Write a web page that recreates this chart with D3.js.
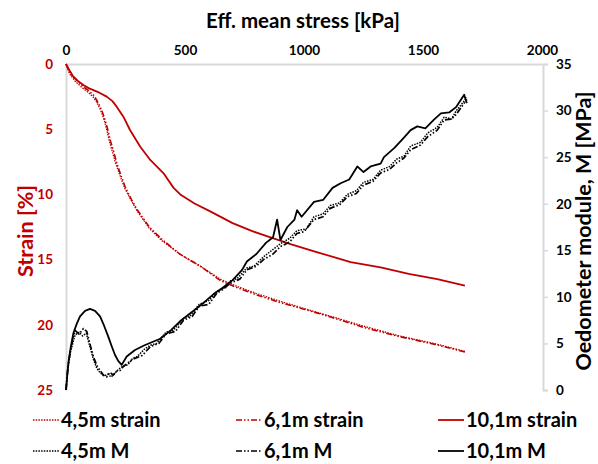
<!DOCTYPE html>
<html lang="en">
<head>
<meta charset="utf-8">
<title>strain and oedometer module</title>
<script src="https://cdn.jsdelivr.net/npm/d3@7"></script>
<style>
  body{
    margin:0px;
    background:#fff;
  }
  text{
    font-family:Lato, "DejaVu Sans", sans-serif;
    font-weight:bold;
  }
</style>
</head>
<body>
<div id="chart"></div>
<script>

var stressTicks = [0, 500, 1000, 1500, 2000]
var strainTicks = [0, 5, 10, 15, 20, 25]
var mTicks = [0, 5, 10, 15, 20, 25, 30, 35]

// strain [%] vs eff. mean stress [kPa]
var strain45X = [0, 15, 40, 70, 95, 115, 130, 142, 153, 162, 172, 182, 196, 210, 228, 246, 275, 300, 350, 400, 480, 564, 648, 712, 800, 901, 1000, 1112, 1251, 1400, 1550, 1680]
var strain45Y = [0, 0.75, 1.35, 1.85, 2.2, 2.55, 2.95, 3.4, 3.9, 4.4, 5.1, 5.9, 6.8, 7.7, 8.6, 9.5, 10.5, 11.3, 12.6, 13.5, 14.6, 15.5, 16.5, 17.0, 17.6, 18.2, 18.75, 19.35, 20.1, 20.85, 21.45, 22.05]

var strain61X = [0, 17, 45, 73, 95, 115, 130, 143, 155, 164, 175, 185, 200, 213, 230, 248, 275, 300, 350, 400, 480, 564, 648, 712, 800, 901, 1000, 1112, 1251, 1400, 1550, 1680]
var strain61Y = [0, 0.72, 1.25, 1.74, 2.05, 2.38, 2.8, 3.27, 3.8, 4.3, 5.0, 5.8, 6.7, 7.6, 8.5, 9.4, 10.4, 11.2, 12.5, 13.4, 14.6, 15.5, 16.6, 17.1, 17.7, 18.3, 18.8, 19.4, 20.2, 20.9, 21.5, 22.1]

var strain101X = [0, 15, 31, 50, 73, 95, 115, 140, 171, 195, 213, 241, 269, 312, 354, 410, 452, 480, 540, 606, 700, 780, 859, 950, 1050, 1196, 1322, 1440, 1560, 1676]
var strain101Y = [0, 0.5, 0.97, 1.3, 1.61, 1.85, 2.0, 2.2, 2.5, 2.85, 3.27, 4.04, 5.06, 6.34, 7.36, 8.38, 9.5, 10.0, 10.7, 11.3, 12.2, 12.8, 13.3, 13.85, 14.4, 15.2, 15.6, 16.1, 16.5, 17.0]

// oedometer module M [MPa] vs eff. mean stress [kPa]
var m45X = [0, 8, 20, 38, 55, 70, 85, 100, 115, 130, 145, 160, 175, 190, 205, 220, 240, 260, 280, 300, 330, 354, 380, 420, 450, 494, 520, 560, 600, 634, 660, 691, 720, 760, 790, 830, 860, 901, 940, 970, 1010, 1042, 1080, 1110, 1150, 1182, 1220, 1250, 1290, 1322, 1360, 1390, 1420, 1448, 1490, 1520, 1560, 1589, 1620, 1640, 1660, 1684]
var m45Y = [0, 2.3, 4.2, 5.9, 6.2, 5.8, 6.1, 4.7, 3.3, 2.3, 1.8, 1.5, 1.7, 1.4, 1.8, 2.2, 2.6, 2.7, 3.4, 3.6, 4.4, 4.8, 5.0, 6.2, 6.4, 7.7, 7.9, 9.2, 9.6, 10.6, 10.9, 11.7, 12.0, 13.1, 13.3, 14.3, 14.9, 15.7, 16.3, 17.1, 17.3, 18.6, 18.9, 19.8, 20.1, 21.0, 21.4, 22.3, 22.6, 23.6, 24.0, 24.8, 25.1, 26.2, 26.6, 27.6, 28.2, 29.3, 29.1, 30.0, 30.6, 31.4]

var m61X = [0, 8, 20, 38, 55, 73, 87, 100, 115, 130, 143, 157, 171, 185, 198, 212, 227, 240, 280, 320, 354, 390, 420, 460, 494, 530, 560, 600, 634, 660, 691, 730, 760, 800, 830, 870, 901, 940, 970, 1000, 1042, 1080, 1110, 1150, 1182, 1220, 1250, 1290, 1322, 1360, 1390, 1420, 1448, 1490, 1520, 1560, 1589, 1620, 1640, 1673, 1684]
var m61Y = [0, 2.5, 4.5, 6.4, 6.0, 6.6, 6.3, 5.0, 3.6, 2.6, 2.1, 1.6, 1.4, 1.9, 1.6, 2.0, 2.1, 2.5, 3.3, 3.7, 4.65, 5.0, 6.0, 6.3, 7.5, 7.9, 9.0, 9.2, 10.4, 10.8, 11.5, 11.9, 12.9, 13.3, 14.0, 14.6, 15.4, 15.9, 16.8, 17.0, 18.3, 18.6, 19.5, 19.9, 20.75, 21.1, 22.0, 22.4, 23.3, 23.7, 24.4, 24.9, 25.8, 26.3, 27.2, 27.9, 29.0, 29.1, 29.6, 30.8, 31.2]

var m101X = [0, 10, 20, 31, 45, 59, 80, 101, 122, 143, 160, 178, 192, 206, 220, 234, 255, 290, 330, 396, 440, 480, 536, 580, 620, 660, 700, 740, 760, 800, 840, 870, 887, 901, 930, 960, 971, 990, 1042, 1080, 1120, 1154, 1190, 1224, 1250, 1280, 1322, 1336, 1380, 1420, 1448, 1476, 1510, 1545, 1575, 1610, 1640, 1673, 1684]
var m101Y = [0, 2.9, 4.6, 6.1, 7.1, 7.9, 8.5, 8.7, 8.5, 7.9, 6.9, 5.7, 4.7, 3.76, 3.1, 2.7, 3.6, 4.3, 4.8, 5.5, 6.4, 7.4, 8.5, 9.4, 10.3, 11.0, 11.8, 12.9, 13.8, 14.6, 15.8, 16.4, 18.3, 16.1, 17.5, 18.3, 19.3, 18.6, 20.2, 20.4, 21.7, 22.2, 22.6, 24.0, 23.4, 24.0, 24.3, 25.0, 26.0, 27.1, 27.9, 28.3, 28.1, 29.0, 29.7, 29.8, 30.4, 31.7, 30.8]

var red = "#c00000"
var w = 598
var h = 464
var plotLeft = 66, plotRight = 542, plotTop = 64, plotBottom = 390

var series = [
  {name:"4,5m strain", x:strain45X, y:strain45Y, axis:"strain", color:red, dash:"1.5,1.2", width:1.3},
  {name:"6,1m strain", x:strain61X, y:strain61Y, axis:"strain", color:red, dash:"6,2,1.5,2,1.5,2", width:1.6},
  {name:"10,1m strain", x:strain101X, y:strain101Y, axis:"strain", color:red, dash:null, width:1.8},
  {name:"4,5m M", x:m45X, y:m45Y, axis:"m", color:"#000", dash:"1.5,1.2", width:1.5},
  {name:"6,1m M", x:m61X, y:m61Y, axis:"m", color:"#000", dash:"6,2,1.5,2,1.5,2", width:1.7},
  {name:"10,1m M", x:m101X, y:m101Y, axis:"m", color:"#000", dash:null, width:1.8}
]

var xScale = d3.scaleLinear().domain([0, 2000]).range([plotLeft, plotRight])
var strainScale = d3.scaleLinear().domain([0, 25]).range([plotTop, plotBottom])
var mScale = d3.scaleLinear().domain([0, 35]).range([plotBottom, plotTop])

var svg = d3.select("#chart").append("svg").attr("width", w).attr("height", h)

// top axis
var xAxis = svg.append("g").attr("transform", "translate(0," + plotTop + ")")
  .call(d3.axisTop(xScale).tickValues(stressTicks).tickFormat(d3.format("d")).tickSize(0).tickPadding(9))
xAxis.select(".domain").attr("stroke", "#d9d9d9").attr("stroke-width", 2)
xAxis.selectAll("text").attr("font-size", 13.5).attr("fill", "#000")

// left axis, strain
var yAxis = svg.append("g").attr("transform", "translate(" + plotLeft + ",0)")
  .call(d3.axisLeft(strainScale).tickValues(strainTicks).tickSize(0).tickPadding(13))
yAxis.select(".domain").attr("stroke", "#d9d9d9").attr("stroke-width", 2)
yAxis.selectAll("text").attr("font-size", 13.5).attr("fill", red)

// right axis, M
var mAxis = svg.append("g").attr("transform", "translate(" + (plotRight + 1) + ",0)")
  .call(d3.axisRight(mScale).tickValues(mTicks).tickSize(5).tickPadding(8))
mAxis.select(".domain").attr("stroke", "#d9d9d9").attr("stroke-width", 2)
mAxis.selectAll("line").attr("stroke", "#d9d9d9").attr("stroke-width", 1.5)
mAxis.selectAll("text").attr("font-size", 13.5).attr("fill", "#000")

// titles
svg.append("text").attr("x", 303).attr("y", 28).attr("text-anchor", "middle")
  .attr("font-size", 20.5).text("Eff. mean stress [kPa]")
svg.append("text").attr("transform", "translate(33,231) rotate(-90)").attr("text-anchor", "middle")
  .attr("font-size", 21.5).attr("fill", red).text("Strain [%]")
svg.append("text").attr("transform", "translate(591,231) rotate(-90)").attr("text-anchor", "middle")
  .attr("font-size", 21.5).text("Oedometer module, M [MPa]")

// curves
var plot = svg.append("g")
series.forEach(function(s){
  var yS = s.axis == "strain" ? strainScale : mScale
  var line = d3.line()
    .x(function(d){ return xScale(d[0]) })
    .y(function(d){ return yS(d[1]) })
  var pts = s.x.map(function(v, i){ return [v, s.y[i]] })
  plot.append("path")
    .datum(pts)
    .attr("d", line)
    .attr("fill", "none")
    .attr("stroke", s.color)
    .attr("stroke-width", s.width)
    .attr("stroke-dasharray", s.dash)
    .attr("stroke-linejoin", "round")
})

// legend
var colX = [33, 236, 438]
var rowY = [420, 451]
var legend = svg.selectAll(".legend")
  .data(series)
  .enter()
  .append("g")
  .attr("class", "legend")
  .attr("transform", function(d, i){
    return "translate(" + colX[i % 3] + "," + rowY[Math.floor(i / 3)] + ")"
  })
legend.append("line")
  .attr("x1", 0).attr("x2", 26).attr("y1", 0).attr("y2", 0)
  .attr("stroke", function(d){ return d.color })
  .attr("stroke-width", function(d){ return d.width })
  .attr("stroke-dasharray", function(d){ return d.dash })
legend.append("text")
  .attr("x", 28).attr("y", 6.8)
  .attr("font-size", 20)
  .text(function(d){ return d.name })

</script>
</body>
</html>
